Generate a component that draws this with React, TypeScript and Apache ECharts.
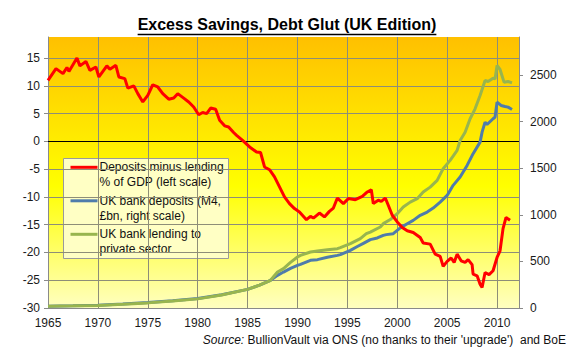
import React, { useEffect, useRef } from "react";
import * as echarts from "echarts";

const titleText = "Excess Savings, Debt Glut (UK Edition)";
const sourceText = "BullionVault via ONS (no thanks to their 'upgrade')  and BoE";

const legendEntries = [
  ["Deposits minus lending", "% of GDP (left scale)"],
  ["UK bank deposits (M4,", "£bn, right scale)"],
  ["UK bank lending to", "private sector"],
];

const xTicks = [1965, 1970, 1975, 1980, 1985, 1990, 1995, 2000, 2005, 2010];
const leftTicks = [-30, -25, -20, -15, -10, -5, 0, 5, 10, 15];
const rightTicks = [0, 500, 1000, 1500, 2000, 2500];

// Deposits minus lending, % of GDP (left scale)
const gapData: [number, number][] = [
  [1965.0, 11.0], [1965.8, 13.1], [1966.5, 12.2], [1966.9, 13.3], [1967.1, 12.6],
  [1967.9, 15.0], [1968.2, 13.6], [1968.8, 14.4], [1969.2, 12.8], [1969.8, 13.4],
  [1970.1, 11.6], [1970.9, 13.6], [1971.2, 13.0], [1971.8, 13.7], [1972.1, 11.6],
  [1972.7, 11.3], [1973.0, 9.6], [1973.6, 10.0], [1974.0, 8.6], [1974.5, 7.1],
  [1975.0, 8.3], [1975.5, 10.2], [1976.0, 9.8], [1976.5, 8.6], [1977.1, 7.6],
  [1977.6, 7.8], [1978.0, 8.6], [1978.6, 7.8], [1979.1, 7.1], [1979.6, 6.2],
  [1980.1, 4.8], [1980.5, 5.2], [1980.9, 5.0], [1981.3, 6.0], [1981.8, 5.8],
  [1982.2, 3.8], [1982.7, 2.8], [1983.1, 2.6], [1983.6, 1.6], [1983.9, 1.1],
  [1984.5, 0.2], [1985.2, -1.0], [1985.9, -1.9], [1986.3, -2.0], [1986.7, -4.6],
  [1987.2, -5.1], [1987.7, -6.4], [1988.2, -8.2], [1988.7, -10.0], [1989.2, -11.2],
  [1989.7, -12.1], [1990.2, -12.7], [1990.9, -14.1], [1991.3, -13.5], [1991.6, -13.8],
  [1992.2, -12.9], [1992.7, -13.6], [1993.2, -12.6], [1993.6, -12.0], [1994.0, -10.2],
  [1994.6, -11.2], [1995.1, -10.3], [1995.8, -10.5], [1996.5, -9.9], [1997.0, -9.1],
  [1997.4, -8.7], [1997.6, -11.2], [1998.1, -10.6], [1998.4, -10.8], [1998.8, -10.2],
  [1999.1, -11.5], [1999.5, -13.3], [2000.0, -14.5], [2000.5, -15.5], [2001.0, -16.1],
  [2001.6, -16.4], [2002.3, -17.3], [2002.6, -18.3], [2003.3, -18.5], [2003.8, -20.3],
  [2004.3, -20.7], [2004.6, -22.5], [2005.0, -21.6], [2005.4, -21.0], [2005.7, -21.8],
  [2006.0, -20.3], [2006.4, -21.5], [2006.8, -21.8], [2007.1, -21.3], [2007.5, -22.2],
  [2007.6, -23.9], [2008.0, -24.2], [2008.3, -25.7], [2008.5, -26.3], [2008.8, -23.6],
  [2009.2, -24.0], [2009.6, -23.3], [2010.0, -20.9], [2010.3, -19.7], [2010.6, -15.7],
  [2010.9, -13.7], [2011.3, -14.2],
];

// UK bank deposits (M4, £bn, right scale)
const depositsData: [number, number][] = [
  [1965.0, 20], [1967.5, 24], [1970.0, 29], [1972.5, 42], [1975.0, 58], [1977.5, 78],
  [1980.0, 101], [1982.4, 143], [1985.0, 200], [1986.2, 245], [1987.3, 297], [1988.0, 351],
  [1988.6, 386], [1989.3, 425], [1990.0, 458], [1990.3, 469], [1991.3, 512], [1992.0, 519],
  [1993.0, 545], [1994.0, 565], [1994.3, 573], [1995.3, 619], [1996.0, 660], [1996.7, 700],
  [1997.3, 734], [1998.0, 752], [1998.6, 780], [1998.9, 788], [1999.6, 798], [2000.3, 860],
  [2001.0, 905], [2001.6, 941], [2002.3, 995], [2003.0, 1030], [2003.6, 1073], [2004.3, 1137],
  [2005.0, 1209], [2005.6, 1317], [2006.3, 1406], [2007.0, 1531], [2007.6, 1657], [2008.3, 1781],
  [2008.5, 1888], [2008.8, 1996], [2009.0, 1970], [2009.6, 2032], [2009.8, 2050], [2010.0, 2210],
  [2010.4, 2175], [2010.8, 2164], [2011.1, 2157], [2011.5, 2132],
];

// UK bank lending to private sector (right scale)
const lendingData: [number, number][] = [
  [1965.0, 20], [1967.5, 23], [1970.0, 27], [1972.5, 39], [1975.0, 55], [1977.5, 75],
  [1980.0, 98], [1982.4, 140], [1985.0, 200], [1986.2, 245], [1987.3, 297], [1988.0, 386],
  [1988.6, 423], [1989.3, 490], [1990.0, 547], [1990.3, 565], [1991.3, 601], [1992.0, 612],
  [1993.0, 625], [1994.0, 637], [1994.3, 648], [1995.3, 691], [1996.3, 745], [1996.9, 798],
  [1997.3, 815], [1998.3, 870], [1998.6, 906], [1999.3, 950], [2000.0, 1013], [2000.6, 1084],
  [2001.3, 1137], [2002.0, 1174], [2002.6, 1245], [2003.3, 1298], [2004.0, 1370], [2004.6, 1496],
  [2005.3, 1585], [2006.0, 1692], [2006.3, 1799], [2006.8, 1888], [2007.3, 2032], [2007.8, 2139],
  [2008.3, 2282], [2008.8, 2443], [2009.1, 2432], [2009.6, 2468], [2009.8, 2460], [2010.0, 2604],
  [2010.3, 2561], [2010.7, 2425], [2011.1, 2432], [2011.5, 2418],
];

const seriesNames = [
  "Deposits minus lending % of GDP (left scale)",
  "UK bank deposits (M4, £bn, right scale)",
  "UK bank lending to private sector",
];
const seriesColors = ["#ff0000", "#4f7cab", "#98b54e"];

const FONT = "'Liberation Sans', Arial, sans-serif";

export default function App() {
  const ref = useRef<HTMLDivElement>(null);

  useEffect(() => {
    if (!ref.current) return;
    const chart = echarts.init(ref.current, undefined, { renderer: "svg" });

    const canvas = document.createElement("canvas");
    const ctx = canvas.getContext("2d");
    let titleW = 300;
    if (ctx) {
      ctx.font = "bold 16px 'Liberation Sans'";
      titleW = ctx.measureText(titleText).width;
    }
    const titleCx = 287;

    const gridColor = "#8e8e78";
    const axisColor = "#8a8a8a";

    const legendChildren: any[] = [
      {
        type: "rect",
        shape: { x: 63.5, y: 158.5, width: 165, height: 100 },
        style: { fill: "#ffffc4", stroke: "#9a9a9a", lineWidth: 1 },
      },
    ];
    legendEntries.forEach((lines, i) => {
      const y0 = 167.3 + i * 33.5;
      legendChildren.push({
        type: "line",
        shape: { x1: 70.5, y1: y0, x2: 97.5, y2: y0 },
        style: { stroke: seriesColors[i], lineWidth: 3 },
      });
      lines.forEach((t, j) => {
        legendChildren.push({
          type: "text",
          x: 99.5,
          y: y0 + j * 15,
          style: {
            text: t,
            fontSize: 12,
            fontFamily: FONT,
            fill: "#111",
            textAlign: "left",
            textVerticalAlign: "middle",
          },
        });
      });
    });

    const option: any = {
      animation: false,
      backgroundColor: "#ffffff",
      textStyle: { fontFamily: FONT },
      grid: {
        left: 48,
        right: 53,
        top: 37,
        bottom: 50,
        show: true,
        borderWidth: 0,
        backgroundColor: {
          type: "linear",
          x: 0,
          y: 0,
          x2: 0,
          y2: 1,
          colorStops: [
            { offset: 0, color: "#ffc000" },
            { offset: 0.55, color: "#ffff00" },
            { offset: 1, color: "#ffffc0" },
          ],
        },
      },
      xAxis: {
        type: "value",
        min: xTicks[0],
        max: 2012.2,
        interval: 5,
        axisLine: { show: true, onZero: false, lineStyle: { color: axisColor } },
        axisTick: { show: false },
        axisLabel: {
          color: "#1a1a1a",
          fontSize: 12,
          fontFamily: FONT,
          margin: 9,
          showMaxLabel: false,
          formatter: (v: number) => (xTicks.includes(v) ? String(v) : ""),
        },
        splitLine: { show: true, showMaxLine: false, lineStyle: { color: gridColor, width: 1 } },
      },
      yAxis: [
        {
          type: "value",
          position: "left",
          min: leftTicks[0],
          max: 18.8,
          interval: 5,
          axisLine: { show: true, lineStyle: { color: axisColor } },
          axisTick: { show: true, length: 4, lineStyle: { color: axisColor } },
          axisLabel: {
            color: "#1a1a1a",
            fontSize: 12,
            fontFamily: FONT,
            margin: 8,
            showMaxLabel: false,
            formatter: (v: number) => (leftTicks.includes(v) ? String(v) : ""),
          },
          splitLine: { show: true, showMaxLine: false, lineStyle: { color: gridColor, width: 1 } },
        },
        {
          type: "value",
          position: "right",
          min: rightTicks[0],
          max: 2910,
          interval: 500,
          axisLine: { show: true, lineStyle: { color: axisColor } },
          axisTick: { show: true, length: 4, lineStyle: { color: axisColor } },
          axisLabel: {
            color: "#1a1a1a",
            fontSize: 12,
            fontFamily: FONT,
            margin: 11,
            showMaxLabel: false,
            formatter: (v: number) => (rightTicks.includes(v) ? String(v) : ""),
          },
          splitLine: { show: false },
        },
      ],
      series: [
        {
          name: seriesNames[1],
          type: "line",
          yAxisIndex: 1,
          data: depositsData,
          showSymbol: false,
          symbol: "none",
          lineStyle: { color: seriesColors[1], width: 3 },
          z: 3,
        },
        {
          name: seriesNames[2],
          type: "line",
          yAxisIndex: 1,
          data: lendingData,
          showSymbol: false,
          symbol: "none",
          lineStyle: { color: seriesColors[2], width: 3 },
          z: 3,
        },
        {
          name: seriesNames[0],
          type: "line",
          yAxisIndex: 0,
          data: gapData,
          showSymbol: false,
          symbol: "none",
          lineStyle: { color: seriesColors[0], width: 3 },
          z: 4,
          markLine: {
            silent: true,
            symbol: "none",
            label: { show: false },
            lineStyle: { color: "#000000", width: 1, type: "solid" },
            data: [{ yAxis: 0 }],
            z: 2,
          },
        },
      ],
      graphic: [
        {
          type: "text",
          x: titleCx,
          y: 24,
          style: {
            text: titleText,
            fontSize: 16,
            fontWeight: "bold",
            fontFamily: FONT,
            fill: "#000",
            textAlign: "center",
            textVerticalAlign: "middle",
          },
        },
        {
          type: "line",
          shape: { x1: titleCx - titleW / 2, y1: 34.5, x2: titleCx + titleW / 2, y2: 34.5 },
          style: { stroke: "#000", lineWidth: 1.5 },
        },
        {
          type: "text",
          x: 566,
          y: 340,
          style: {
            text: "{i|Source:} " + sourceText,
            fontSize: 12,
            fontFamily: FONT,
            fill: "#111",
            textAlign: "right",
            textVerticalAlign: "middle",
            rich: {
              i: { fontStyle: "italic", fontSize: 12, fontFamily: FONT, fill: "#111" },
            },
          },
        },
        {
          type: "group",
          z: 100,
          children: legendChildren,
        },
      ],
    };

    chart.setOption(option);
    return () => chart.dispose();
  }, []);

  return (
    <div
      ref={ref}
      style={{ position: "absolute", left: 0, top: 0, width: 572, height: 358 }}
    />
  );
}
